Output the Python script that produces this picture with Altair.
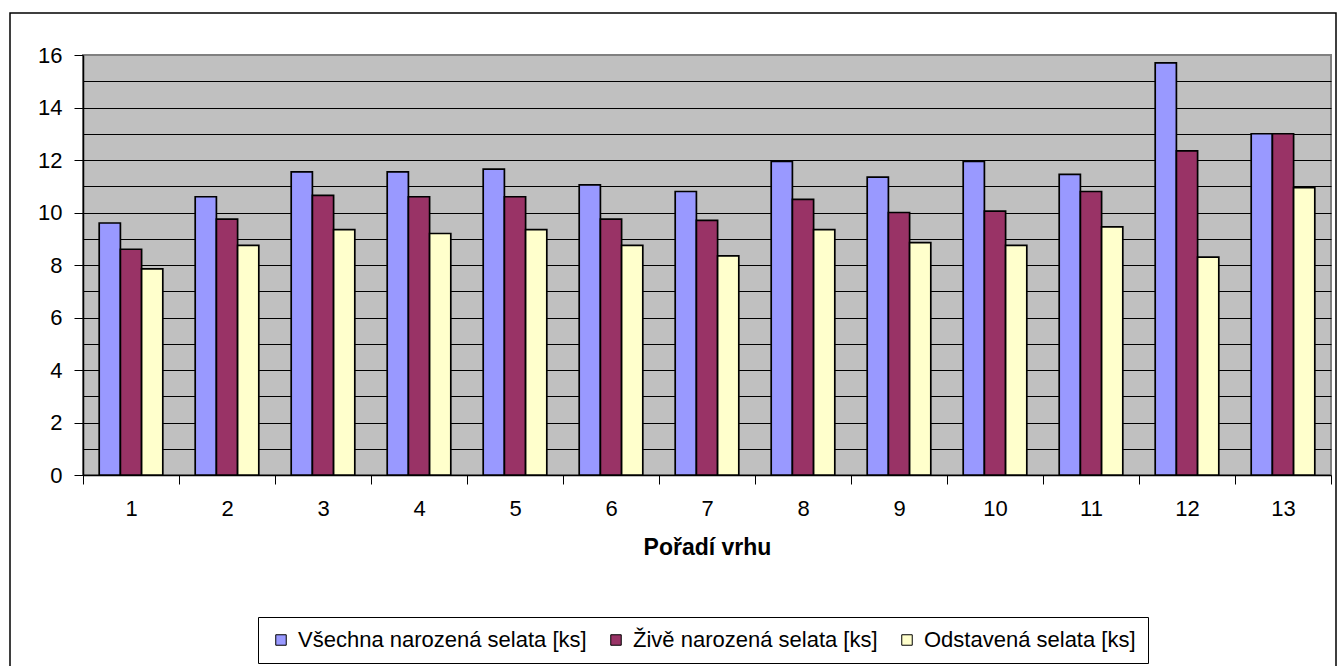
import altair as alt
import pandas as pd

litters = [str(i) for i in range(1, 14)]
series = ["Všechna narozená selata [ks]", "Živě narozená selata [ks]", "Odstavená selata [ks]"]
vsechna = [9.6, 10.6, 11.55, 11.55, 11.65, 11.05, 10.8, 11.95, 11.35, 11.95, 11.45, 15.7, 13.0]
zive = [8.6, 9.75, 10.65, 10.6, 10.6, 9.75, 9.7, 10.5, 10.0, 10.05, 10.8, 12.35, 13.0]
odstavena = [7.85, 8.75, 9.35, 9.2, 9.35, 8.75, 8.35, 9.35, 8.85, 8.75, 9.45, 8.3, 10.95]
colors = ["#9999FF", "#993366", "#FFFFCC"]
y_ticks = list(range(0, 17))

rows = []
for s, vals in zip(series, [vsechna, zive, odstavena]):
    for c, v in zip(litters, vals):
        rows.append({"vrh": c, "serie": s, "hodnota": v})
df = pd.DataFrame(rows)

FONT = "Liberation Sans"

bars = alt.Chart(df).mark_bar(stroke="black", strokeWidth=1.7).encode(
    x=alt.X(
        "vrh:N", sort=litters, title="Pořadí vrhu",
        scale=alt.Scale(paddingInner=0, paddingOuter=0),
        axis=alt.Axis(
            labelAngle=0, tickBand="extent", tickSize=9, tickColor="black",
            domainColor="black", domainWidth=1.5, labelFontSize=22, labelColor="black",
            labelFont=FONT, labelPadding=14, titleFontSize=23, titleFontWeight="bold",
            titleFont=FONT, titleColor="black", titlePadding=17, grid=False,
        ),
    ),
    xOffset=alt.XOffset("serie:N", sort=series,
                        scale=alt.Scale(paddingInner=0, paddingOuter=0.764)),
    y=alt.Y(
        "hodnota:Q", title=None,
        scale=alt.Scale(domain=[0, 16], nice=False),
        axis=alt.Axis(
            values=y_ticks,
            labelExpr="datum.value % 2 === 0 ? datum.label : ''",
            tickOpacity={"condition": {"test": "datum.value % 2 === 0", "value": 1}, "value": 0},
            gridOpacity={"condition": {"test": "datum.value > 0 && datum.value < 16", "value": 1}, "value": 0},
            grid=True, gridColor="black", gridWidth=1,
            tickSize=9, tickColor="black", domainColor="black", domainWidth=1.5,
            labelFontSize=22, labelColor="black", labelFont=FONT, labelPadding=12,
        ),
    ),
    color=alt.Color(
        "serie:N", sort=series,
        scale=alt.Scale(domain=series, range=colors),
        legend=alt.Legend(
            title=None, orient="none", legendX=175, legendY=562, direction="horizontal",
            strokeColor="black", fillColor="white", padding=12,
            labelFontSize=22, labelFont=FONT, labelColor="black", labelLimit=0,
            symbolType="square", symbolSize=110, symbolStrokeColor="black",
            symbolStrokeWidth=1, symbolOpacity=1, columnPadding=18, labelOffset=6,
        ),
    ),
)

frame = alt.Chart(alt.Data(values=[{}])).mark_rect(
    fill=None, stroke="black", strokeWidth=1.5
).encode(
    x=alt.value(-73), x2=alt.value(1253), y=alt.value(-42), y2=alt.value(640)
)

chart = alt.layer(frame, bars).properties(
    width=1248, height=420,
    autosize=alt.AutoSizeParams(type="none"),
    padding={"left": 83, "top": 55, "right": 6, "bottom": 191},
    background="white",
).configure_view(
    fill="#C0C0C0", stroke="#808080", strokeWidth=2
)

chart.save("out.html", embed_options={"renderer": "svg", "actions": False})
